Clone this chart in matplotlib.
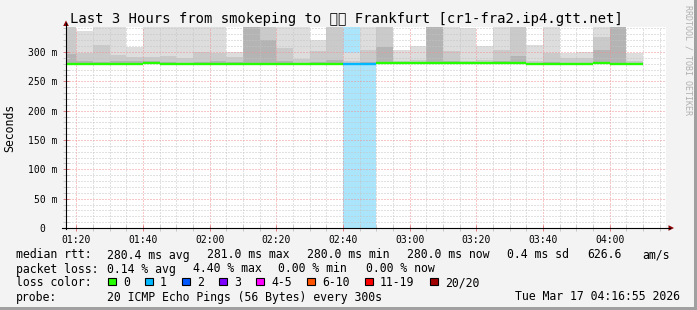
import matplotlib
matplotlib.use('Agg')
import matplotlib.pyplot as plt
from matplotlib.patches import Rectangle, Polygon
from matplotlib.lines import Line2D
import numpy as np

W, H = 697, 310

# 5-minute steps, start of each step in minutes after midnight (01:15 .. 04:05)
col_start = list(range(75, 250, 5))

median_ms = [280, 280, 280, 280, 280, 281, 280, 280, 280, 280,
             280, 280, 280, 280, 280, 280, 280, 280, 280, 281,
             281, 281, 281, 281, 281, 281, 281, 281, 280, 280,
             280, 280, 281, 280, 280]
loss_cnt = [0, 0, 0, 0, 0, 0, 0, 0, 0, 0,
            0, 0, 0, 0, 0, 0, 0, 1, 1, 0,
            0, 0, 0, 0, 0, 0, 0, 0, 0, 0,
            0, 0, 0, 0, 0]

# smoke: upper edge of the outer (light), middle and inner (dark) bands
smoke_light = [360, 336, 360, 360, 308, 360, 360, 360, 360, 360,
               300, 360, 360, 360, 360, 321, 360, 298, 360, 360,
               303, 310, 360, 360, 340, 310, 360, 360, 312, 360,
               299, 300, 360, 360, 299]
smoke_mid = [360, 298, 312, 294, 291, 291, 293, 290, 300, 299,
             291, 360, 360, 307, 288, 302, 360, 284, 303, 360,
             285, 286, 360, 302, 285, 286, 303, 360, 284, 299,
             289, 289, 326, 360, 284]
smoke_dark = [297, 284, 283, 284, 285, 285, 283, 282, 283, 285,
              283, 360, 321, 284, 282, 283, 286, 281, 283, 309,
              282, 282, 360, 284, 282, 282, 284, 293, 281, 283,
              282, 282, 304, 360, 281]

y_ticks = [0, 50, 100, 150, 200, 250, 300]
x_ticks = [80, 100, 120, 140, 160, 180, 200, 220, 240]
x_labels = ['01:20', '01:40', '02:00', '02:20', '02:40', '03:00', '03:20', '03:40', '04:00']

loss_names = ['0', '1', '2', '3', '4-5', '6-10', '11-19', '20/20']
loss_colors = ['#26ff00', '#00b8ff', '#0059ff', '#7e00ff', '#ff00ff', '#ff5500', '#ff0000', '#a10000']
loss_bg = '#aae5fb'

title = 'Last 3 Hours from smokeping to \U0001F1E9\U0001F1EA Frankfurt [cr1-fra2.ip4.gtt.net]'

plt.rcParams['font.family'] = 'DejaVu Sans Mono'

fig = plt.figure(figsize=(W / 100, H / 100), dpi=100, facecolor='#f3f3f3')


def fx(x):
    return x / W


def fy(y):
    return 1 - y / H


x0, x1, yb, yt = 66, 666, 228, 27.3
ax = fig.add_axes([fx(x0), fy(yb), (x1 - x0) / W, (yb - yt) / H])
ax.set_facecolor('white')
t0 = 76 + 55 / 60  # 01:16:55
ax.set_xlim(t0, t0 + 180)
ax.set_ylim(0, 342)
for s in ax.spines.values():
    s.set_visible(False)

starts = np.array(col_start)
med = np.array(median_ms)

# loss background
for i, n in enumerate(loss_cnt):
    if n:
        ax.axvspan(starts[i], starts[i] + 5, color=loss_bg, lw=0, zorder=0.5)

# smoke
for tops, c in [(smoke_light, '#dddddd'), (smoke_mid, '#cacaca'), (smoke_dark, '#b4b4b4')]:
    tops = np.array(tops)
    ax.bar(starts, tops - (med - 1), bottom=med - 1, width=5, align='edge',
           color=c, lw=0, zorder=1)

# median rtt, coloured by loss
ax.hlines(med, starts, starts + 5, colors=[loss_colors[n] for n in loss_cnt],
          lw=1.7, zorder=3)

ax.set_xticks(x_ticks)
ax.set_xticklabels(x_labels)
ax.set_xticks(range(80, 257, 5), minor=True)
ax.set_yticks(y_ticks)
ax.set_yticklabels([f'{v} m' if v else '0  ' for v in y_ticks])
ax.set_yticks(range(0, 341, 10), minor=True)
ax.set_axisbelow(False)
ax.grid(which='major', color='#f09090', linestyle=(0, (1, 2)), lw=0.72)
ax.grid(which='minor', color='#c4c4c4', linestyle=(0, (1, 2)), lw=0.72)
ax.tick_params(which='major', length=4, direction='inout', color='#e08080', width=0.72)
ax.tick_params(which='minor', length=4, direction='inout', color='#c8c8c8', width=0.72)
ax.tick_params(axis='x', labelsize=7, pad=3.2)
ax.tick_params(axis='y', labelsize=7, pad=4.3)

# axes with arrows
fig.add_artist(Line2D([fx(66), fx(66)], [fy(229), fy(23)], color='black', lw=0.8))
fig.add_artist(Line2D([fx(62), fx(670)], [fy(228), fy(228)], color='black', lw=0.8))
fig.add_artist(Polygon([(fx(66), fy(20.5)), (fx(63.2), fy(26)), (fx(68.8), fy(26))],
                       closed=True, color='#8b0000', lw=0))
fig.add_artist(Polygon([(fx(674), fy(228)), (fx(668.5), fy(225.2)), (fx(668.5), fy(230.8))],
                       closed=True, color='#8b0000', lw=0))

# frame shading
fig.add_artist(Rectangle((fx(694), 0), 3 / W, 1, color='#a0a0a0', lw=0))
fig.add_artist(Rectangle((0, 0), 1, 3 / H, color='#a0a0a0', lw=0))

fig.text(fx(346), fy(19.5), title, ha='center', va='center', fontsize=10,
         family=['DejaVu Sans Mono', 'Noto Sans CJK SC', 'Noto Sans', 'DejaVu Sans'])
fig.text(fx(10), fy(128), 'Seconds', rotation=90, ha='center', va='center', fontsize=8.3)
fig.text(fx(688), fy(60), 'RRDTOOL / TOBI OETIKER', rotation=270, ha='center',
         va='center', fontsize=6, color='#b0b0b0')

fs = 8.3
row1 = [(16, 'median rtt:'), (107, '280.4 ms avg'), (207, '281.0 ms max'),
        (307, '280.0 ms min'), (407, '280.0 ms now'), (507, '0.4 ms sd'),
        (587, '626.6'), (642, 'am/s')]
row2 = [(16, 'packet loss:'), (107, '0.14 % avg'), (193, '4.40 % max'),
        (278, '0.00 % min'), (366, '0.00 % now')]
for x, s in row1:
    fig.text(fx(x), fy(255), s, ha='left', va='center', fontsize=fs)
for x, s in row2:
    fig.text(fx(x), fy(269), s, ha='left', va='center', fontsize=fs)

fig.text(fx(16), fy(283), 'loss color:', ha='left', va='center', fontsize=fs)
bx = 108
for name, c in zip(loss_names, loss_colors):
    fig.add_artist(Rectangle((fx(bx), fy(285)), 7.5 / W, 7.5 / H, facecolor=c,
                             edgecolor='black', lw=0.8))
    fig.text(fx(bx + 15), fy(283), name, ha='left', va='center', fontsize=fs)
    bx += 15 + 7 * len(name) + 15

fig.text(fx(16), fy(297), 'probe:', ha='left', va='center', fontsize=fs)
fig.text(fx(107), fy(297), '20 ICMP Echo Pings (56 Bytes) every 300s',
         ha='left', va='center', fontsize=fs)
fig.text(fx(680), fy(297), 'Tue Mar 17 04:16:55 2026', ha='right', va='center', fontsize=fs)

fig.savefig('out.png', dpi=100, facecolor=fig.get_facecolor())
